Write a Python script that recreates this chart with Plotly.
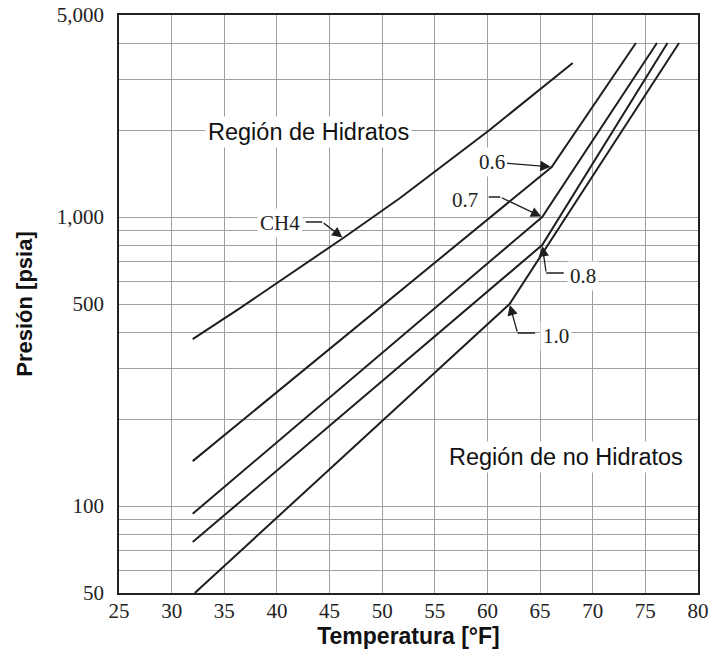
import numpy as np
import plotly.graph_objects as go

# ---- data ----
ch4_T = [32, 36.5, 46.3, 51.7, 60.2, 68.1]
ch4_P = [378, 484, 846, 1163, 2000, 3410]
g06_T = [32, 66.1, 74.1]
g06_P = [143, 1490, 4000]
g07_T = [32, 65.2, 76.1]
g07_P = [94, 1000, 4000]
g08_T = [32, 65.2, 77.1]
g08_P = [75, 800, 4000]
g10_T = [32.2, 62.1, 78.2]
g10_P = [50, 500, 4000]

series = [("CH4", ch4_T, ch4_P), ("0.6", g06_T, g06_P), ("0.7", g07_T, g07_P),
          ("0.8", g08_T, g08_P), ("1.0", g10_T, g10_P)]

x_ticks = [25, 30, 35, 40, 45, 50, 55, 60, 65, 70, 75, 80]
y_grid = [50, 60, 70, 80, 90, 100, 200, 300, 400, 500, 600, 700, 800, 900,
          1000, 2000, 3000, 4000, 5000]
y_labels = {50: "50", 100: "100", 500: "500", 1000: "1,000", 5000: "5,000"}

LINE = "#1e1e1e"
GRID = "#a0a0a0"
SERIF = "Liberation Serif, Times New Roman, serif"
SANS = "Liberation Sans, Arial, sans-serif"

fig = go.Figure()
for name, T, P in series:
    fig.add_trace(go.Scatter(x=T, y=P, mode="lines", name=name,
                             line=dict(color=LINE, width=2), showlegend=False,
                             hoverinfo="skip"))

# label callouts: (text, tip x, tip y, text offset, bend offset, leader-start offset) in px
callouts = [
    ("CH4", ch4_T[2], ch4_P[2], (-63, -15), (-21, -16), (-39, -16)),
    ("0.6", g06_T[1], g06_P[1], (-60, -5), None, None),
    ("0.7", g07_T[1], g07_P[1], (-77, -17), (-42, -20), (-55, -20)),
    ("0.8", g08_T[1], g08_P[1], (41, 31), (4, 28), (23, 28)),
    ("1.0", g10_T[1], g10_P[1], (46, 32), (8, 29), (27, 29)),
]

ann = []
for text, T, P, toff, bend, start in callouts:
    ly = float(np.log10(P))
    if bend is None:
        ann.append(dict(x=T, y=ly, xref="x", yref="y", text=text, showarrow=True,
                        ax=toff[0], ay=toff[1], arrowhead=2, arrowsize=1.6,
                        arrowwidth=1.3, arrowcolor=LINE, standoff=1,
                        font=dict(family=SERIF, size=21, color="#222"),
                        bgcolor="white", borderpad=2))
    else:
        ann.append(dict(x=T, y=ly, xref="x", yref="y", text="", showarrow=True,
                        ax=bend[0], ay=bend[1], arrowhead=2, arrowsize=1.6,
                        arrowwidth=1.3, arrowcolor=LINE, standoff=1))
        ann.append(dict(x=T, y=ly, xref="x", yref="y", text="", showarrow=True,
                        xshift=bend[0], yshift=-bend[1],
                        ax=start[0] - bend[0], ay=start[1] - bend[1],
                        arrowhead=0, arrowwidth=1.3, arrowcolor=LINE, standoff=0))
        ann.append(dict(x=T, y=ly, xref="x", yref="y", text=text, showarrow=False,
                        xshift=toff[0], yshift=-toff[1],
                        xanchor="center", yanchor="middle",
                        font=dict(family=SERIF, size=21, color="#222"),
                        bgcolor="white", borderpad=2))

ann.append(dict(x=0.327, y=0.797, xref="paper", yref="paper",
                xanchor="center", yanchor="middle",
                text="Región de Hidratos", showarrow=False,
                font=dict(family=SANS, size=23.5, color="#111"),
                bgcolor="white", borderpad=2))
ann.append(dict(x=0.772, y=0.235, xref="paper", yref="paper",
                xanchor="center", yanchor="middle",
                text="Región de no Hidratos", showarrow=False,
                font=dict(family=SANS, size=23.5, color="#111"),
                bgcolor="white", borderpad=2))

fig.update_layout(
    width=715, height=656,
    margin=dict(l=119, r=17, t=15, b=63),
    paper_bgcolor="white", plot_bgcolor="white",
    annotations=ann,
)
fig.update_xaxes(
    range=[25, 80], tickvals=x_ticks, ticktext=[str(v) for v in x_ticks],
    showgrid=True, gridcolor=GRID, gridwidth=1.3,
    showline=True, linecolor="#222", linewidth=1.6, mirror=True,
    ticks="", ticklabelstandoff=-2, automargin=False,
    tickfont=dict(family=SERIF, size=21, color="#222"),
    title=dict(text="<b>Temperatura [°F]</b>", font=dict(family=SANS, size=23, color="#111"),
               standoff=0),
    zeroline=False,
)
fig.update_yaxes(
    type="log", range=[np.log10(50), np.log10(5000)],
    tickvals=y_grid, ticktext=[y_labels.get(v, "") for v in y_grid],
    showgrid=True, gridcolor=GRID, gridwidth=1.3,
    showline=True, linecolor="#222", linewidth=1.6, mirror=True,
    ticks="", ticklabelstandoff=9, automargin=False,
    tickfont=dict(family=SERIF, size=21, color="#222"),
    title=dict(text="<b>Presión [psia]</b>", font=dict(family=SANS, size=22, color="#111"),
               standoff=18),
    zeroline=False,
)

fig.write_html("out.html")
